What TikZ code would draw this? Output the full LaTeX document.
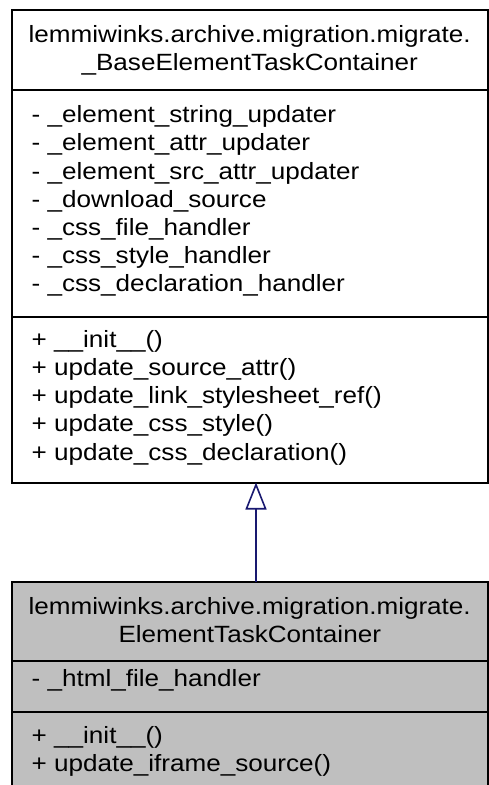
\documentclass[tikz,border=0pt]{standalone}
\usepackage{fontspec}
\setmainfont{Liberation Sans}[FakeStretch=1.11]
\usetikzlibrary{arrows.meta}
\definecolor{umlgray}{HTML}{BFBFBF}
\definecolor{edgeblue}{HTML}{191970}
\tikzset{
  classbox/.style={draw=black, line width=2pt, inner sep=0pt, outer sep=0pt},
  divider/.style={draw=black, line width=2pt},
  member/.style={inner sep=0pt, anchor=base west, font=\fontsize{23.5}{28.2}\selectfont},
  ctitle/.style={inner sep=0pt, anchor=base, font=\fontsize{23.5}{28.2}\selectfont},
  inherit/.style={draw=edgeblue, line width=1.6pt, -{Triangle[open, length=27pt, width=21pt]}}
}
\begin{document}
\begin{tikzpicture}[x=1pt,y=-1pt]
\useasboundingbox (0,0) rectangle (489,785);
\clip (0,0) rectangle (489,785);
% top class
\node[classbox, minimum width=475.5pt, minimum height=472.5pt] (base) at (249.75,246.25) {};
\coordinate (bd1) at (0,89.5);
\coordinate (bd2) at (0,316.5);
\draw[divider] (base.west |- bd1) -- (base.east |- bd1);
\draw[divider] (base.west |- bd2) -- (base.east |- bd2);
\node[ctitle] (bt1) at (249.75,42) {lemmiwinks.archive.migration.migrate.};
\node[ctitle] (bt2) at (249.75,70.3) {\_BaseElementTaskContainer};
\node[member] (ba1) at (31.5,122.7) {- \_element\_string\_updater};
\node[member] (ba2) at (31.5,150.9) {- \_element\_attr\_updater};
\node[member] (ba3) at (31.5,179.1) {- \_element\_src\_attr\_updater};
\node[member] (ba4) at (31.5,207.3) {- \_download\_source};
\node[member] (ba5) at (31.5,235.5) {- \_css\_file\_handler};
\node[member] (ba6) at (31.5,263.7) {- \_css\_style\_handler};
\node[member] (ba7) at (31.5,291.9) {- \_css\_declaration\_handler};
\node[member] (bm1) at (31.5,347.3) {+ \_\_init\_\_()};
\node[member] (bm2) at (31.5,375.5) {+ update\_source\_attr()};
\node[member] (bm3) at (31.5,403.7) {+ update\_link\_stylesheet\_ref()};
\node[member] (bm4) at (31.5,431.9) {+ update\_css\_style()};
\node[member] (bm5) at (31.5,460.1) {+ update\_css\_declaration()};
% bottom class
\node[classbox, fill=umlgray, minimum width=475.5pt, minimum height=218.5pt] (elem) at (249.75,690.75) {};
\coordinate (ed1) at (0,660.5);
\coordinate (ed2) at (0,711.5);
\draw[divider] (elem.west |- ed1) -- (elem.east |- ed1);
\draw[divider] (elem.west |- ed2) -- (elem.east |- ed2);
\node[ctitle] (et1) at (249.75,614) {lemmiwinks.archive.migration.migrate.};
\node[ctitle] (et2) at (249.75,642.5) {ElementTaskContainer};
\node[member] (ea1) at (31.5,686.7) {- \_html\_file\_handler};
\node[member] (em1) at (31.5,743.3) {+ \_\_init\_\_()};
\node[member] (em2) at (31.5,771.7) {+ update\_iframe\_source()};
% inheritance
\coordinate (arrx) at (256,0);
\draw[inherit] (elem.north -| arrx) -- (base.south -| arrx);
\end{tikzpicture}
\end{document}
